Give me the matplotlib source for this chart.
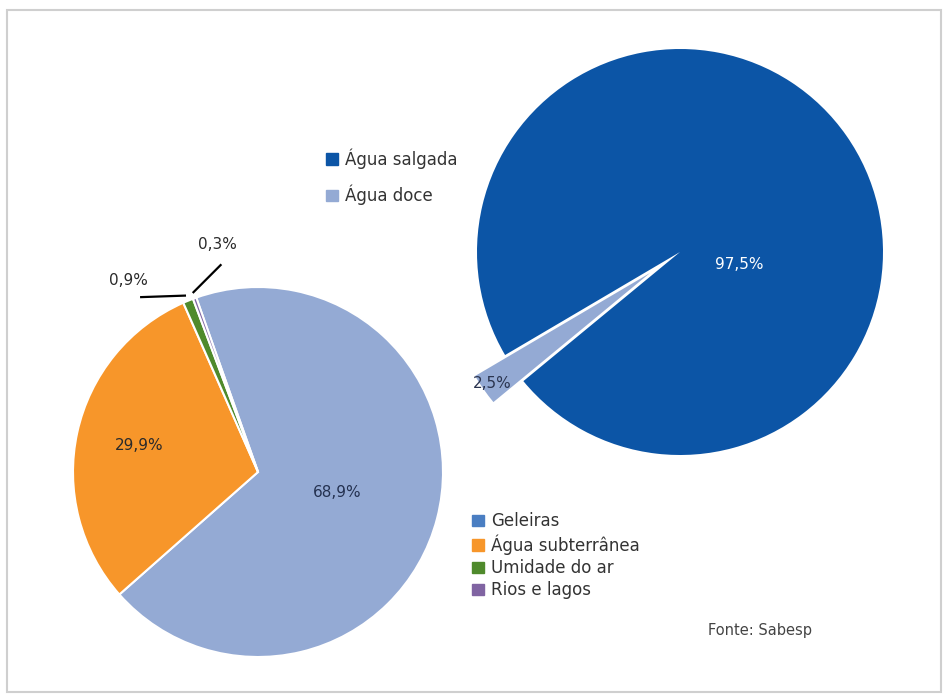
import numpy as np
import matplotlib
matplotlib.use('Agg')
import matplotlib.pyplot as plt
import matplotlib.patches as mpatches

# water on the planet
total_labels = ['Água salgada', 'Água doce']
total_values = [97.5, 2.5]
total_colors = ['#0C55A6', '#94AAD4']

# how the fresh water is split
fresh_labels = ['Geleiras', 'Água subterrânea', 'Umidade do ar', 'Rios e lagos']
fresh_values = [68.9, 29.9, 0.9, 0.3]
fresh_colors = ['#94AAD4', '#F7962A', '#4F8A2C', '#8064A2']
fresh_legend_colors = ['#4A7EC2', '#F7962A', '#4F8A2C', '#8064A2']

source = 'Fonte: Sabesp'

W, H = 944, 695
PAD = 1.35
plt.rcParams['font.family'] = ['DejaVu Sans']


def fmt(v):
    return f'{v:.1f}%'.replace('.', ',')


def pie_axes(fig, cx, cy, r):
    # square axes placed in pixel units so that radius 1 == r pixels
    s = r * PAD
    ax = fig.add_axes([(cx - s) / W, 1 - (cy + s) / H, 2 * s / W, 2 * s / H])
    return ax


def fix_limits(ax):
    # pie() resets the limits, put ours back
    ax.set_xlim(-PAD, PAD)
    ax.set_ylim(-PAD, PAD)
    ax.axis('off')


def unit(deg):
    a = np.deg2rad(deg)
    return np.array([np.cos(a), np.sin(a)])


def wedge_mid(w):
    return (w.theta1 + w.theta2) / 2


fig = plt.figure(figsize=(W / 100, H / 100), dpi=100)
fig.patch.set_facecolor('white')

# thin grey frame around everything
fig.patches.append(mpatches.Rectangle((7 / W, 1 - 692 / H), 934 / W, 682 / H,
                                      transform=fig.transFigure, fill=False,
                                      edgecolor='#CFCFCF', lw=1.5))

# big pie: salt vs fresh water, fresh slice pulled out
ax1 = pie_axes(fig, 680, 252, 203)
w1, _ = ax1.pie(total_values[::-1], colors=total_colors[::-1], explode=[0.18, 0],
                startangle=210.5, counterclock=True,
                wedgeprops=dict(linewidth=0))
fix_limits(ax1)
fresh_w = w1[0]
pos = np.array(fresh_w.center) + 0.95 * unit(wedge_mid(fresh_w))
ax1.text(pos[0], pos[1], fmt(total_values[1]), ha='center', va='center',
         fontsize=11, color='#2B3550')
ax1.text(0.29, -0.06, fmt(total_values[0]), ha='center', va='center',
         fontsize=11, color='white')

# small pie: fresh water breakdown
ax2 = pie_axes(fig, 258, 472, 185)
w2, _ = ax2.pie(fresh_values, colors=fresh_colors, startangle=109.5,
                counterclock=False,
                wedgeprops=dict(edgecolor='white', linewidth=1.5))
fix_limits(ax2)

p = 0.44 * unit(wedge_mid(w2[0]))
ax2.text(p[0], p[1], fmt(fresh_values[0]), ha='center', va='center',
         fontsize=11, color='#243150')
p = 0.66 * unit(wedge_mid(w2[1]))
ax2.text(p[0], p[1], fmt(fresh_values[1]), ha='center', va='center',
         fontsize=11, color='#2A2A2A')

# tiny slices get outside labels with a short leader line
for w, v, ang in [(w2[2], fresh_values[2], 124), (w2[3], fresh_values[3], 100)]:
    a = 1.03 * unit(wedge_mid(w))
    b = 1.14 * unit(ang)
    t = 1.25 * unit(ang)
    ax2.plot([a[0], b[0]], [a[1], b[1]], color='black', lw=1.6,
             solid_capstyle='butt', clip_on=False)
    ax2.text(t[0], t[1], fmt(v), ha='center', va='center', fontsize=11,
             color='#2A2A2A')

# legends
h_top = [mpatches.Patch(color=c) for c in total_colors]
fig.legend(h_top, total_labels, loc='upper left',
           bbox_to_anchor=(318 / W, 1 - 140 / H), frameon=False,
           fontsize=12, handlelength=0.7, handleheight=0.7,
           handletextpad=0.4, labelspacing=0.95, borderpad=0,
           labelcolor='#333333')

h_low = [mpatches.Patch(color=c) for c in fresh_legend_colors]
fig.legend(h_low, fresh_labels, loc='upper left',
           bbox_to_anchor=(464 / W, 1 - 504 / H), frameon=False,
           fontsize=12, handlelength=0.7, handleheight=0.7,
           handletextpad=0.4, labelspacing=0.25, borderpad=0,
           labelcolor='#333333')

fig.text(708 / W, 1 - 631 / H, source, ha='left', va='center',
         fontsize=10.5, color='#444444')

fig.savefig('out.png', dpi=100, facecolor='white')
